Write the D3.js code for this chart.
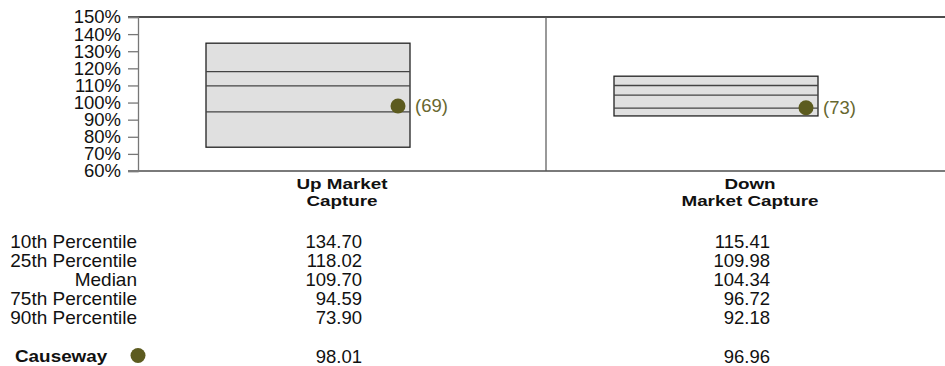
<!DOCTYPE html>
<html><head><meta charset="utf-8">
<script src="https://cdn.jsdelivr.net/npm/d3@7"></script>
<style>body{margin:0;background:#fff}svg{display:block;font-family:"Liberation Sans",Arial,sans-serif}</style>
</head><body><svg id="c" width="945" height="366"></svg>
<script>
const categories = ["Up Market\nCapture", "Down\nMarket Capture"];
const p10 = [134.70, 115.41];
const p25 = [118.02, 109.98];
const median = [109.70, 104.34];
const p75 = [94.59, 96.72];
const p90 = [73.90, 92.18];
const fundName = "Causeway";
const fundValues = [98.01, 96.96];
const fundRanks = [69, 73];
const rowLabels = ["10th Percentile", "25th Percentile", "Median", "75th Percentile", "90th Percentile"];
const yTicks = [60, 70, 80, 90, 100, 110, 120, 130, 140, 150];

const svg = d3.select("#c");
const y = d3.scaleLinear().domain([60, 150]).range([171, 17]);
const x = d3.scaleBand().domain(categories).range([138, 954]).padding(0);
const bw = x.bandwidth();
const dotColor = "#5c5b1f", labColor = "#67672f";

// top frame line
svg.append("line").attr("x1", 128).attr("x2", 945).attr("y1", y(150)).attr("y2", y(150))
  .attr("stroke", "#111").attr("stroke-width", 1.3);

// y axis
const yAxis = svg.append("g").attr("transform", "translate(138,0)")
  .call(d3.axisLeft(y).tickValues(yTicks).tickSize(10).tickPadding(7).tickFormat(d => d + "%"));
yAxis.select(".domain").attr("stroke", "#777").attr("stroke-width", 1.3);
yAxis.selectAll(".tick line").attr("stroke", "#777").attr("stroke-width", 1.3);
yAxis.selectAll(".tick text").attr("font-size", "18.5px").attr("fill", "#111")
  .attr("font-family", '"Liberation Sans",Arial,sans-serif');

// bottom line
svg.append("line").attr("x1", 128).attr("x2", 945).attr("y1", y(60)).attr("y2", y(60))
  .attr("stroke", "#7a7a7a").attr("stroke-width", 2);

// dividers
categories.slice(1).forEach(c => {
  svg.append("line").attr("x1", x(c)).attr("x2", x(c)).attr("y1", y(150)).attr("y2", y(60))
    .attr("stroke", "#555").attr("stroke-width", 1.2);
});

// boxes
categories.forEach((c, i) => {
  const x0 = x(c) + bw / 6, w = bw / 2;
  svg.append("rect").attr("x", x0).attr("y", y(p10[i])).attr("width", w)
    .attr("height", y(p90[i]) - y(p10[i]))
    .attr("fill", "#e0e0e0").attr("stroke", "#222").attr("stroke-width", 1.3);
  [p25[i], median[i], p75[i]].forEach(v => {
    svg.append("line").attr("x1", x0).attr("x2", x0 + w).attr("y1", y(v)).attr("y2", y(v))
      .attr("stroke", "#444").attr("stroke-width", 1.3);
  });
  svg.append("circle").attr("cx", x0 + w - 12).attr("cy", y(fundValues[i])).attr("r", 7.5)
    .attr("fill", dotColor);
  svg.append("text").attr("x", x0 + w + 5).attr("y", y(fundValues[i])).attr("dy", "0.35em")
    .attr("font-size", "18.5px").attr("fill", labColor).text("(" + fundRanks[i] + ")");
  // category labels
  const lines = c.split("\n");
  lines.forEach((t, j) => {
    svg.append("text").attr("transform", `translate(${x(c) + bw / 2},${188.5 + j * 17}) scale(1.3,1)`)
      .attr("text-anchor", "middle").attr("font-size", "14.5px").attr("font-weight", "bold")
      .attr("fill", "#111").text(t);
  });
});

// table
const rowY = d3.scalePoint().domain(rowLabels).range([241.5, 317.5]);
const rows = [p10, p25, median, p75, p90];
rowLabels.forEach((lab, r) => {
  svg.append("text").attr("x", 137).attr("y", rowY(lab)).attr("dy", "0.35em")
    .attr("text-anchor", "end").attr("font-size", "19px").attr("fill", "#111").text(lab);
  categories.forEach((c, i) => {
    svg.append("text").attr("x", x(c) + bw / 2 + 20).attr("y", rowY(lab)).attr("dy", "0.35em")
      .attr("text-anchor", "end").attr("font-size", "18.5px").attr("fill", "#111")
      .text(rows[r][i].toFixed(2));
  });
});
const fy = 356.5;
svg.append("text").attr("transform", `translate(15,${fy}) scale(1.18,1)`).attr("dy", "0.35em")
  .attr("font-size", "16px").attr("font-weight", "bold").attr("fill", "#111").text(fundName);
svg.append("circle").attr("cx", 138).attr("cy", fy - 1).attr("r", 7.5).attr("fill", dotColor);
categories.forEach((c, i) => {
  svg.append("text").attr("x", x(c) + bw / 2 + 20).attr("y", fy).attr("dy", "0.35em")
    .attr("text-anchor", "end").attr("font-size", "18.5px").attr("fill", "#111")
    .text(fundValues[i].toFixed(2));
});
</script></body></html>
